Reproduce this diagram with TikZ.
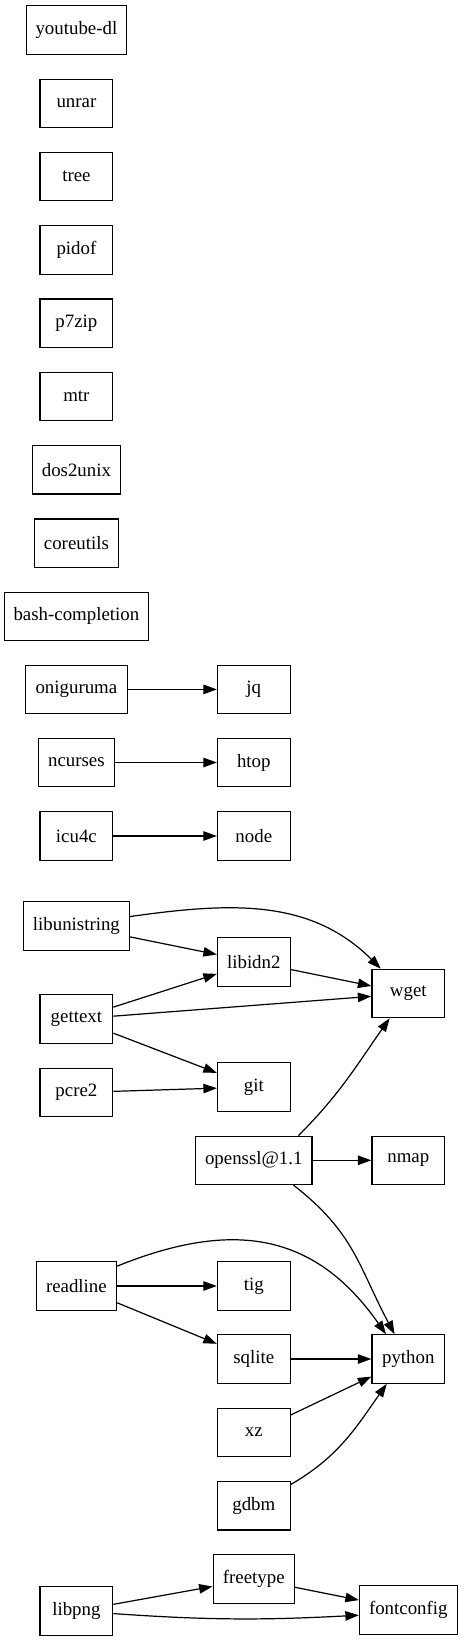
\documentclass[tikz,border=0pt]{standalone}
\usepackage{fontspec}
\setmainfont{Liberation Serif}
\usetikzlibrary{arrows.meta}
\tikzset{
    pkg/.style={draw, line width=0.9pt, minimum width=#1*0.7426pt, minimum height=35.9pt, inner sep=1pt, font=\fontsize{14}{17}\selectfont},
    pkg/.default=72.7,
    dep/.style={draw, line width=0.9pt, -{Triangle[length=10pt,width=7pt]}},
}
\begin{document}
\begin{tikzpicture}[x=0.7426pt, y=0.7426pt]
    \useasboundingbox (0,0) rectangle (463,-1641);
    \node[pkg=100] (youtubedl) at (76.4,-30) {youtube-dl};
    \node[pkg] (unrar) at (76.4,-103.3) {unrar};
    \node[pkg] (tree) at (76.4,-176.6) {tree};
    \node[pkg] (pidof) at (76.4,-250) {pidof};
    \node[pkg] (p7zip) at (76.4,-323.2) {p7zip};
    \node[pkg] (mtr) at (76.4,-396.5) {mtr};
    \node[pkg=88.3] (dos2unix) at (76.4,-469.9) {dos2unix};
    \node[pkg=84.3] (coreutils) at (76.4,-543.1) {coreutils};
    \node[pkg=143.7] (bashcompletion) at (76.4,-616.4) {bash-completion};
    \node[pkg=102.3] (oniguruma) at (76.4,-689.4) {oniguruma};
    \node[pkg=75.7] (ncurses) at (76.4,-762.5) {ncurses};
    \node[pkg] (icu4c) at (76.4,-836) {icu4c};
    \node[pkg] (jq) at (253.8,-689.4) {jq};
    \node[pkg] (htop) at (253.8,-762.5) {htop};
    \node[pkg] (node) at (253.8,-836) {node};
    \node[pkg=106] (libunistring) at (76.4,-926) {libunistring};
    \node[pkg] (gettext) at (76.4,-1019) {gettext};
    \node[pkg] (pcre2) at (76.4,-1092.5) {pcre2};
    \node[pkg] (libidn2) at (253.8,-962) {libidn2};
    \node[pkg] (git) at (253.8,-1087) {git};
    \node[pkg] (wget) at (408.3,-993.5) {wget};
    \node[pkg=116.3] (openssl) at (253.8,-1160.3) {openssl@1.1};
    \node[pkg] (nmap) at (408.3,-1160.3) {nmap};
    \node[pkg=80.3] (readline) at (76.4,-1286) {readline};
    \node[pkg] (tig) at (253.8,-1286) {tig};
    \node[pkg] (sqlite) at (253.8,-1359) {sqlite};
    \node[pkg] (python) at (408.3,-1359) {python};
    \node[pkg] (xz) at (253.8,-1432.5) {xz};
    \node[pkg] (gdbm) at (253.8,-1505.8) {gdbm};
    \node[pkg=81.3] (freetype) at (253.8,-1579) {freetype};
    \node[pkg] (libpng) at (76.4,-1611) {libpng};
    \node[pkg=97.7] (fontconfig) at (408.3,-1610) {fontconfig};
    \path[dep] (oniguruma) edge (jq);
    \path[dep] (ncurses) edge (htop);
    \path[dep] (icu4c) edge (node);
    \path[dep] (libunistring) edge (libidn2);
    \draw[dep] (libunistring.10) to[out=8, in=135] (wget.138);
    \path[dep] (gettext) edge (libidn2);
    \path[dep] (gettext) edge (wget);
    \path[dep] (gettext) edge (git);
    \path[dep] (pcre2) edge (git);
    \path[dep] (libidn2) edge (wget);
    \draw[dep] (openssl.29) to[out=45, in=235] (wget.233);
    \path[dep] (openssl) edge (nmap);
    \draw[dep] (openssl.-32) to[out=-38, in=118, looseness=1.1] (python.119);
    \path[dep] (readline) edge (tig);
    \path[dep] (readline) edge (sqlite);
    \draw[dep] (readline.26) to[out=22, in=125, looseness=1.15] (python.132);
    \path[dep] (sqlite) edge (python);
    \path[dep] (xz) edge (python);
    \draw[dep] (gdbm.30) to[out=30, in=235] (python.229);
    \path[dep] (libpng) edge (freetype);
    \draw[dep] (libpng.-4) to[out=-4, in=183] (fontconfig.186);
    \path[dep] (freetype) edge (fontconfig);
\end{tikzpicture}
\end{document}
